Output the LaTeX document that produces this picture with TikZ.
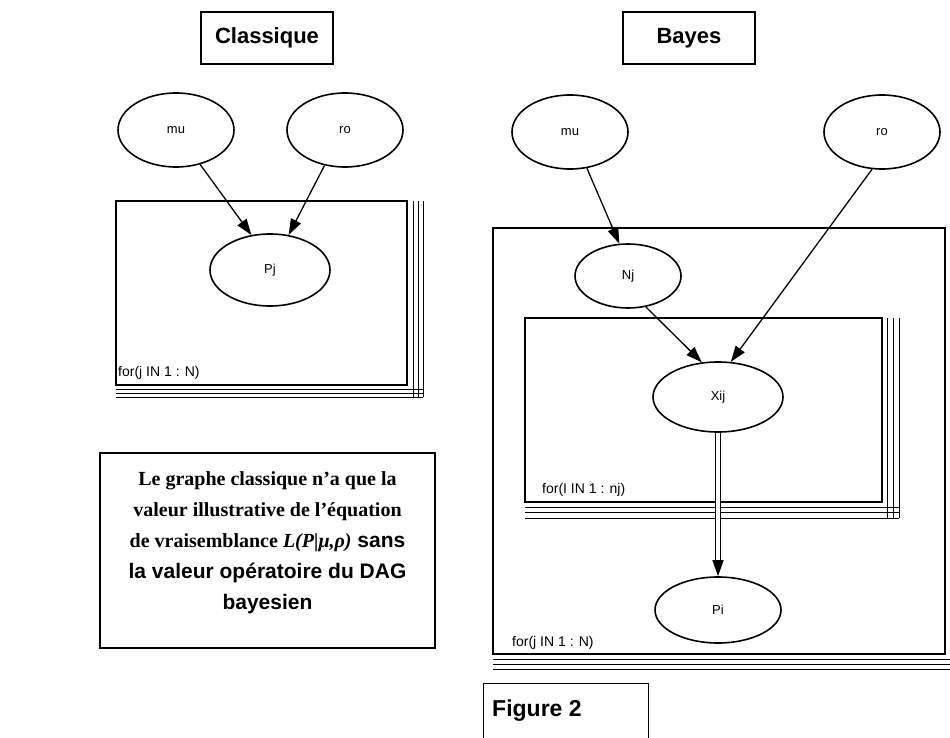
\documentclass[tikz,border=0pt]{standalone}
\usepackage{fontspec}
\setmainfont{Liberation Sans}
\newfontfamily\tnr{Liberation Serif}
\usetikzlibrary{shapes.geometric,arrows.meta,calc}
\begin{document}
\begin{tikzpicture}[x=1pt,y=-1pt,
 every node/.style={inner sep=0pt},
 elli/.style={draw,ellipse,line width=1.6pt,minimum width=116pt,minimum height=74pt,font=\fontsize{13}{15}\selectfont},
 arr/.style={line width=1.3pt,-{Triangle[length=16pt,width=11pt]}},
 platemain/.style={line width=1.5pt},
 platel/.style={line width=1pt},
 titlebox/.style={draw,line width=1.2pt,font=\bfseries\fontsize{22}{26}\selectfont,minimum width=132pt,minimum height=52pt},
 lbl/.style={anchor=west,font=\fontsize{14}{16}\selectfont}
]
\fill[white] (0,0) rectangle (950,738);
\useasboundingbox (0,0) rectangle (950,738);

% ---------- left: Classique ----------
\node[titlebox] (tC) at (267,38) {Classique};
\node[elli] (muL) at (176,130) {mu};
\node[elli] (roL) at (345,130) {ro};

\draw[platemain] (116,201) rectangle (407,385);
\draw[platel] (413,201) -- (413,397);
\draw[platel] (418,201) -- (418,397);
\draw[platel] (423,201) -- (423,397);
\draw[platel] (116,389) -- (423,389);
\draw[platel] (116,393) -- (423,393);
\draw[platel] (116,397) -- (423,397);
\node[lbl] (forL) at (118,373) {for(j IN 1 : N)};

\node[elli,minimum width=120pt,minimum height=72pt] (Pj) at (270,270) {Pj};
\draw[arr] (muL.-55) -- (Pj.118);
\draw[arr] (roL.-120) -- (Pj.62);

\node[draw,line width=1.2pt,minimum width=335pt,minimum height=195pt] (tb) at (267.5,550.5) {};
\node[align=center,font=\bfseries\fontsize{20}{31}\selectfont] (tbt) at (267.5,543)
 {{\tnr Le graphe classique n’a que la}\\
  {\tnr valeur illustrative de l’équation}\\
  {\tnr de vraisemblance \textit{L(P|μ,ρ)}}{\fontsize{21}{31}\selectfont\ sans}\\
  {\fontsize{21}{31}\selectfont la valeur opératoire du DAG}\\
  {\fontsize{21}{31}\selectfont bayesien}};

% ---------- right: Bayes ----------
\node[titlebox] (tB) at (689,38) {Bayes};
\node[elli] (muR) at (570,132) {mu};
\node[elli] (roR) at (882,132) {ro};

\draw[platemain] (493,228) rectangle (945,654);
\draw[platel] (493,659) -- (960,659);
\draw[platel] (493,664) -- (960,664);
\draw[platel] (493,669) -- (960,669);
\node[lbl] (forJ) at (512,643) {for(j IN 1 : N)};

\node[elli,minimum width=106pt,minimum height=64pt] (Nj) at (628,276) {Nj};

\draw[platemain] (525,318) rectangle (882,502);
\draw[platel] (887,318) -- (887,518);
\draw[platel] (893,318) -- (893,518);
\draw[platel] (899,318) -- (899,518);
\draw[platel] (525,507) -- (899,507);
\draw[platel] (525,512) -- (899,512);
\draw[platel] (525,518) -- (899,518);
\node[lbl] (forI) at (542,490) {for(I IN 1 : nj)};

\node[elli,minimum width=130pt,minimum height=70pt] (Xij) at (718,397) {Xij};
\node[elli,minimum width=126pt,minimum height=66pt] (Pi) at (718,610) {Pi};

\draw[arr] (muR.-65) -- (Nj.105);
\draw[arr] (Nj.-60) -- (Xij.115);
\draw[arr] (roR.-105) -- (Xij.70);
\draw[line width=1.1pt,double distance=3.5pt,shorten >=15pt] (Xij) -- (Pi);
\draw[arr] ([yshift=16pt]Pi.north) -- (Pi.north);

\node[draw,line width=1.2pt,minimum width=165pt,minimum height=64pt,anchor=north west] (fig) at (483,683) {};
\node[anchor=west,font=\bfseries\fontsize{23}{28}\selectfont] (figt) at (492,711) {Figure 2};
\end{tikzpicture}
\end{document}
